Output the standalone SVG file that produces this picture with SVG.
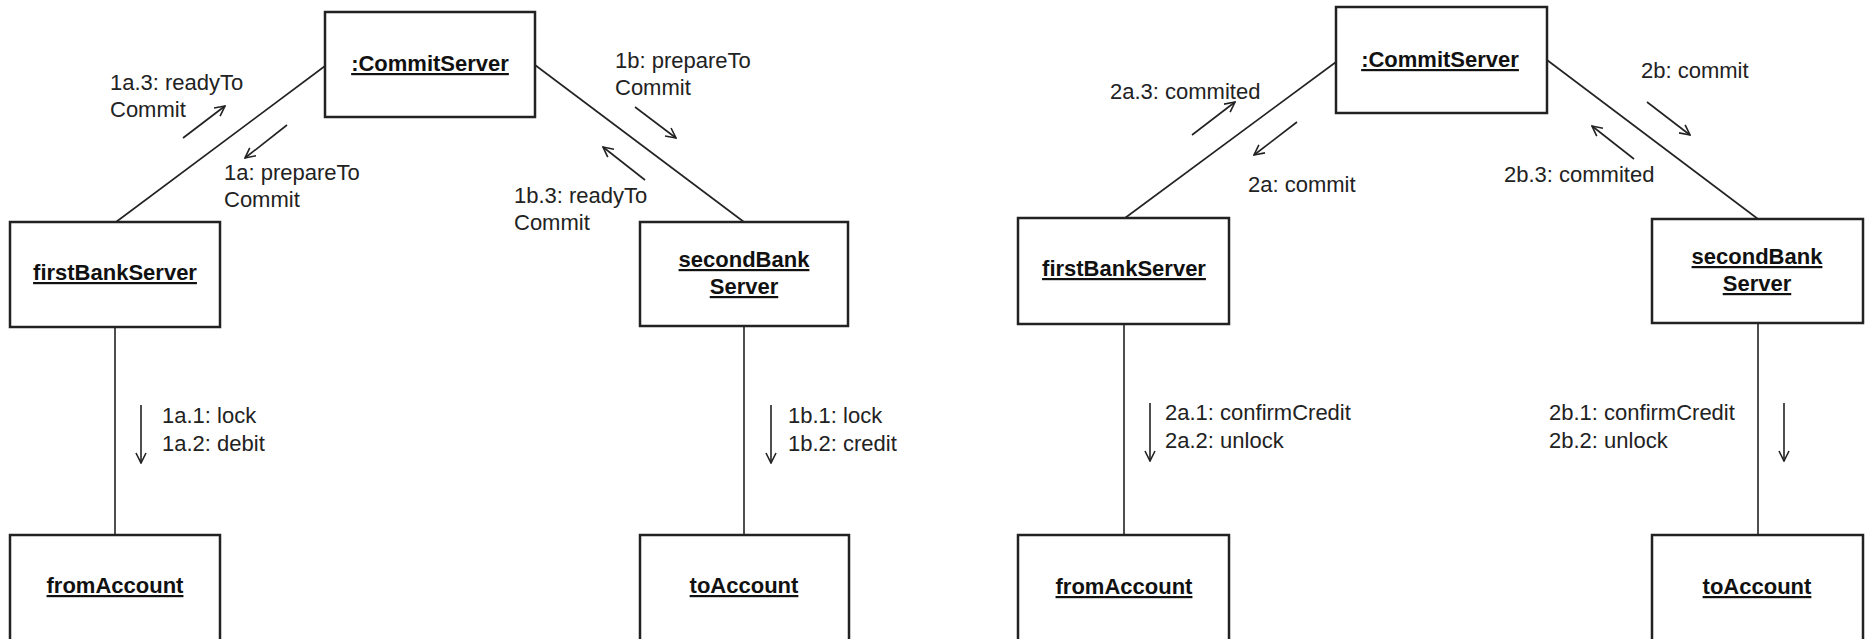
<svg xmlns="http://www.w3.org/2000/svg" width="1867" height="639" viewBox="0 0 1867 639">
<style>
.box{fill:#fff;stroke:#222;stroke-width:2.5}
.name{font-family:"Liberation Sans",Arial,sans-serif;font-size:22px;font-weight:bold;fill:#111;text-anchor:middle;text-decoration:underline}
.lbl{font-family:"Liberation Sans",Arial,sans-serif;font-size:22px;fill:#222}
.link{stroke:#222;stroke-width:1.6;fill:none}
.msg{stroke:#222;stroke-width:1.6;fill:none;marker-end:url(#open)}
</style>
<defs>
<marker id="open" viewBox="0 0 12 12" refX="11" refY="6" markerWidth="12" markerHeight="12" markerUnits="userSpaceOnUse" orient="auto">
<path d="M1,1 L11,6 L1,11" fill="none" stroke="#222" stroke-width="1.6"/>
</marker>
</defs>
<rect width="1867" height="639" fill="#fff"/>
<g id="connectors">
<line class="link" x1="325" y1="66" x2="116" y2="222"/>
<line class="link" x1="535" y1="65" x2="744" y2="222"/>
<line class="link" x1="115" y1="327" x2="115" y2="535"/>
<line class="link" x1="744" y1="326" x2="744" y2="535"/>
<line class="link" x1="1336" y1="62" x2="1125" y2="218"/>
<line class="link" x1="1547" y1="60" x2="1758" y2="219"/>
<line class="link" x1="1124" y1="324" x2="1124" y2="535"/>
<line class="link" x1="1758" y1="323" x2="1758" y2="535"/>
<line class="msg" x1="183" y1="138" x2="225" y2="106"/>
<line class="msg" x1="287" y1="125" x2="245" y2="158"/>
<line class="msg" x1="635" y1="107" x2="676" y2="138"/>
<line class="msg" x1="645" y1="180" x2="603" y2="147"/>
<line class="msg" x1="141" y1="405" x2="141" y2="463"/>
<line class="msg" x1="771" y1="405" x2="771" y2="463"/>
<line class="msg" x1="1192" y1="135" x2="1235" y2="102"/>
<line class="msg" x1="1297" y1="122" x2="1254" y2="155"/>
<line class="msg" x1="1647" y1="102" x2="1690" y2="135"/>
<line class="msg" x1="1634" y1="159" x2="1592" y2="126"/>
<line class="msg" x1="1150" y1="403" x2="1150" y2="461"/>
<line class="msg" x1="1784" y1="403" x2="1784" y2="461"/>
</g>
<g id="labels">
<text class="lbl" x="110" y="90">1a.3: readyTo</text>
<text class="lbl" x="110" y="117">Commit</text>
<text class="lbl" x="224" y="180">1a: prepareTo</text>
<text class="lbl" x="224" y="207">Commit</text>
<text class="lbl" x="615" y="68">1b: prepareTo</text>
<text class="lbl" x="615" y="95">Commit</text>
<text class="lbl" x="514" y="203">1b.3: readyTo</text>
<text class="lbl" x="514" y="230">Commit</text>
<text class="lbl" x="162" y="423">1a.1: lock</text>
<text class="lbl" x="162" y="451">1a.2: debit</text>
<text class="lbl" x="788" y="423">1b.1: lock</text>
<text class="lbl" x="788" y="451">1b.2: credit</text>
<text class="lbl" x="1110" y="99">2a.3: commited</text>
<text class="lbl" x="1248" y="192">2a: commit</text>
<text class="lbl" x="1641" y="78">2b: commit</text>
<text class="lbl" x="1504" y="182">2b.3: commited</text>
<text class="lbl" x="1165" y="420">2a.1: confirmCredit</text>
<text class="lbl" x="1165" y="448">2a.2: unlock</text>
<text class="lbl" x="1549" y="420">2b.1: confirmCredit</text>
<text class="lbl" x="1549" y="448">2b.2: unlock</text>
</g>
<g id="commitServer1"><rect class="box" x="325" y="12" width="210" height="105"/><text class="name" x="430" y="71">:CommitServer</text></g>
<g id="firstBankServer1"><rect class="box" x="10" y="222" width="210" height="105"/><text class="name" x="115" y="280">firstBankServer</text></g>
<g id="secondBankServer1"><rect class="box" x="640" y="222" width="208" height="104"/><text class="name" x="744" y="267">secondBank</text><text class="name" x="744" y="294">Server</text></g>
<g id="fromAccount1"><rect class="box" x="10" y="535" width="210" height="120"/><text class="name" x="115" y="593">fromAccount</text></g>
<g id="toAccount1"><rect class="box" x="640" y="535" width="209" height="120"/><text class="name" x="744" y="593">toAccount</text></g>
<g id="commitServer2"><rect class="box" x="1336" y="7" width="211" height="106"/><text class="name" x="1440" y="67">:CommitServer</text></g>
<g id="firstBankServer2"><rect class="box" x="1018" y="218" width="211" height="106"/><text class="name" x="1124" y="276">firstBankServer</text></g>
<g id="secondBankServer2"><rect class="box" x="1652" y="219" width="211" height="104"/><text class="name" x="1757" y="264">secondBank</text><text class="name" x="1757" y="291">Server</text></g>
<g id="fromAccount2"><rect class="box" x="1018" y="535" width="211" height="120"/><text class="name" x="1124" y="594">fromAccount</text></g>
<g id="toAccount2"><rect class="box" x="1652" y="535" width="211" height="120"/><text class="name" x="1757" y="594">toAccount</text></g>
</svg>
